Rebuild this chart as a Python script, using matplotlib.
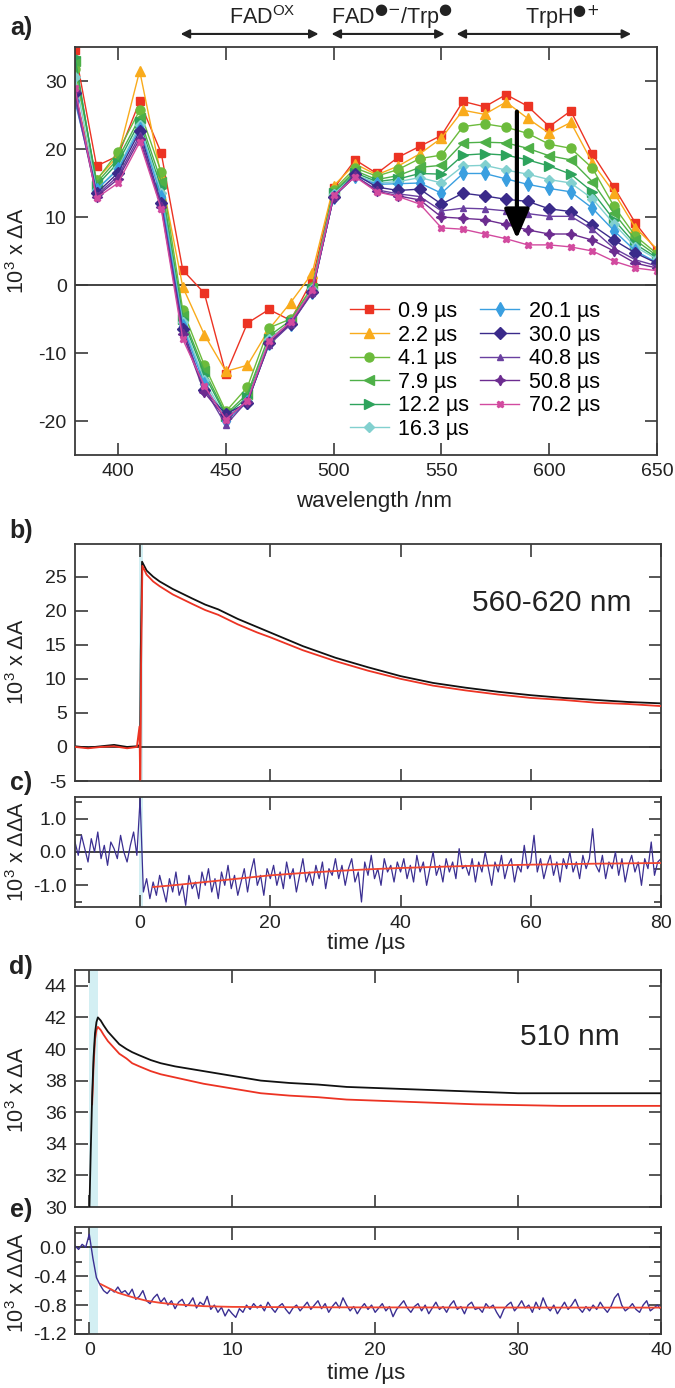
import numpy as np
import matplotlib
matplotlib.use('Agg')
import matplotlib.pyplot as plt
from matplotlib.ticker import MultipleLocator

plt.rcParams['font.family'] = ['Liberation Sans', 'DejaVu Sans']
plt.rcParams['mathtext.fontset'] = 'dejavusans'
plt.rcParams['axes.unicode_minus'] = False

W, H = 675, 1388

# ---------------- panel a data ----------------
wavelengths = list(range(380, 651, 10))
delay_labels = ['0.9 µs', '2.2 µs', '4.1 µs', '7.9 µs', '12.2 µs', '16.3 µs',
                '20.1 µs', '30.0 µs', '40.8 µs', '50.8 µs', '70.2 µs']
spec_0p9 = [34.5, 17.5, 19.0, 27.0, 19.4, 2.2, -1.2, -13.1, -5.6, -3.6, -5.2, 0.7, 14.2, 18.4,
            16.4, 18.8, 20.4, 22.0, 27.0, 26.2, 28.0, 26.3, 23.3, 25.6, 19.3, 14.4, 9.1, 5.0]
spec_2p2 = [28.0, 15.5, 19.0, 31.5, 16.0, -0.3, -7.3, -12.7, -11.8, -6.5, -2.6, 1.7, 14.6, 17.8,
            16.2, 17.5, 19.3, 21.6, 25.7, 25.1, 26.9, 24.5, 22.3, 23.9, 18.0, 13.6, 8.4, 5.3]
spec_4p1 = [31.8, 15.4, 19.6, 25.7, 16.6, -3.7, -11.8, -18.6, -15.0, -6.3, -5.0, -0.3, 14.0, 17.2,
            16.0, 17.0, 18.6, 19.1, 23.3, 23.7, 23.2, 22.3, 20.7, 20.1, 17.2, 11.6, 7.2, 4.6]
spec_7p9 = [33.0, 15.0, 18.6, 24.6, 15.2, -4.6, -12.6, -19.0, -16.0, -7.5, -5.2, -0.5, 13.7, 16.8,
            15.5, 16.1, 17.3, 17.6, 20.9, 21.0, 20.9, 20.1, 19.0, 18.4, 15.2, 10.6, 6.6, 4.3]
spec_12p2 = [33.5, 14.6, 18.0, 24.0, 14.2, -5.0, -13.2, -19.2, -16.5, -8.0, -5.5, -0.6, 13.5, 16.5,
             15.2, 15.6, 16.4, 16.3, 19.1, 19.3, 19.1, 18.4, 17.5, 16.3, 13.7, 9.6, 6.0, 4.0]
spec_16p3 = [30.6, 14.0, 17.2, 23.5, 13.6, -5.5, -14.0, -19.6, -17.0, -8.0, -5.6, -0.6, 13.4, 16.2,
             15.0, 15.2, 15.8, 15.0, 17.5, 17.6, 16.9, 16.3, 15.5, 15.0, 12.7, 9.0, 5.6, 3.8]
spec_20p1 = [27.0, 14.0, 17.0, 23.0, 13.0, -6.0, -14.6, -20.0, -17.2, -8.5, -5.8, -1.0, 13.0, 16.0,
             14.8, 14.9, 15.0, 13.5, 16.4, 16.4, 15.6, 14.8, 14.2, 13.7, 11.3, 8.0, 5.0, 3.3]
spec_30p0 = [28.3, 13.5, 16.5, 22.6, 12.0, -6.5, -15.5, -19.0, -17.3, -8.6, -5.8, -1.0, 13.0, 16.3,
             14.4, 13.9, 14.1, 11.9, 13.5, 13.1, 12.6, 12.3, 11.2, 10.8, 8.8, 6.6, 4.7, 3.2]
spec_40p8 = [27.5, 13.2, 16.0, 22.0, 11.8, -7.0, -15.2, -20.6, -17.0, -8.8, -5.8, -1.2, 13.0, 16.0,
             14.0, 13.4, 13.0, 10.9, 11.3, 11.2, 10.9, 10.5, 10.1, 10.1, 8.2, 5.4, 3.7, 2.8]
spec_50p8 = [28.6, 13.0, 15.6, 21.5, 11.5, -7.2, -15.8, -19.6, -17.2, -8.5, -5.6, -1.0, 13.0, 16.0,
             13.8, 13.1, 12.5, 10.0, 9.8, 9.6, 8.9, 8.1, 7.5, 7.5, 6.6, 5.0, 3.2, 2.5]
spec_70p2 = [29.0, 12.8, 15.0, 21.0, 11.2, -8.0, -14.8, -19.8, -17.0, -8.2, -5.4, -0.8, 13.2, 15.9,
             13.7, 13.0, 11.9, 8.4, 8.2, 7.5, 6.8, 5.9, 5.9, 5.6, 5.0, 3.5, 2.5, 2.1]
spectra = [spec_0p9, spec_2p2, spec_4p1, spec_7p9, spec_12p2, spec_16p3,
           spec_20p1, spec_30p0, spec_40p8, spec_50p8, spec_70p2]
colors = ['#ec3323', '#f9ab1c', '#6cbb3c', '#4eb048', '#2ea35c', '#82d0cf',
          '#3a9fe0', '#3a2a8a', '#6a40a0', '#6c2c90', '#d24a9f']
markers = ['s', '^', 'o', '<', '>', 'D', 'd', 'D', '^', (4, 1, 0), 'X']
msizes = [6, 7, 6.5, 7, 7, 5, 7, 6.5, 4.5, 7.5, 5]

# ---------------- panel b data ----------------
b_time_black = [-10, -8, -6, -4, -2, -0.5, 0.0, 0.1, 0.3, 1, 2, 3, 5, 8, 10, 12, 15, 18, 20,
                25, 30, 35, 40, 45, 50, 55, 60, 65, 70, 75, 80]
b_black = [0.1, -0.1, 0.1, 0.3, 0.0, 0.1, 0.3, 14.0, 27.2, 25.9, 25.0, 24.3, 23.2, 21.8, 20.9,
           20.2, 18.8, 17.6, 16.8, 14.8, 13.1, 11.7, 10.4, 9.4, 8.7, 8.1, 7.6, 7.2, 6.9, 6.6, 6.4]
b_time_red = [-10, -8, -6, -4, -2, -0.5, -0.1, 0.0, 0.05, 0.15, 0.35, 1, 2, 3, 5, 8, 10, 12, 15,
              18, 20, 25, 30, 35, 40, 45, 50, 55, 60, 65, 70, 75, 80]
b_red = [0.0, -0.2, 0.0, 0.1, -0.2, 0.0, 3.0, -4.8, -4.8, 12.0, 26.6, 25.3, 24.3, 23.6, 22.4,
         21.0, 20.1, 19.4, 18.0, 16.8, 16.1, 14.2, 12.6, 11.2, 10.0, 9.0, 8.3, 7.7, 7.2, 6.9,
         6.5, 6.3, 6.0]

# ---------------- panel c data (t = -10 ... 80, every 0.5 us) ----------------
c_start, c_step = -10.0, 0.5
c_diff = [0.3, -0.1, 0.5, 0.1, -0.3, 0.4, 0.0, 0.6, -0.2, 0.2, -0.4, 0.3, 0.1, -0.2, 0.5, 0.0,
          -0.3, 0.2, 0.6, -0.1,
          1.6,
          -1.2, -0.8, -1.4, -0.9, -1.3, -0.7, -1.1, -1.5, -0.8, -1.2, -0.6, -1.3, -1.0, -1.6,
          -0.7, -1.1, -0.9, -1.4, -0.6, -1.0,
          -0.5, -1.2, -0.8, -1.4, -0.6, -1.0, -0.4, -1.1, -0.7, -1.3, -0.9, -0.5, -1.2, -0.6,
          -0.2, -1.0, -0.7, -1.3, -0.5, -0.8,
          -0.4, -1.0, -0.6, -1.1, -0.3, -0.8, -0.5, -1.2, -0.7, -0.2, -0.9, -0.6, -1.0, -0.4,
          -0.8, -0.3, -1.1, -0.5, -0.7, -0.2,
          -0.8, -0.4, -1.0, -0.5, -0.2, -0.9, -0.6, -1.5, -0.3, -0.7, -0.1, -0.8, -0.5, -1.0,
          -0.2, -0.6, -0.4, -0.9, -0.3, -0.6,
          -0.2, -0.8, -0.4, -0.9, -0.1, -0.6, -0.3, -1.0, -0.5, 0.0, -0.7, -0.4, -0.9, -0.2,
          -0.6, -0.3, -0.8, 0.1, -0.5, -0.4,
          -0.7, -0.2, -0.9, -0.3, -0.6, 0.0, -0.5, -1.0, -0.3, -0.6, -0.1, -0.8, -0.4, -0.2,
          -0.9, -0.4, -0.6, 0.2, -0.5, -0.3,
          0.5, -0.6, -0.2, -0.8, -0.4, -0.1, -0.7, -0.3, -0.9, -0.2, -0.5, 0.0, -0.6, -0.3,
          -0.8, -0.1, -0.5, -0.2, 0.7, -0.4,
          -0.6, -0.1, -0.8, -0.3, -0.5, 0.0, -0.7, -0.2, -0.9, -0.4, -0.1, -0.6, -0.3, -1.0,
          -0.2, -0.5, 0.3, -0.7, -0.3, -0.2]
c_fit_time = [2, 5, 10, 15, 20, 25, 30, 35, 40, 50, 60, 70, 80]
c_fit = [-1.05, -1.0, -0.9, -0.8, -0.7, -0.63, -0.57, -0.52, -0.48, -0.42, -0.38, -0.35, -0.33]

# ---------------- panel d data ----------------
d_time_black = [0.0, 0.1, 0.2, 0.3, 0.4, 0.5, 0.6, 0.8, 1.0, 1.3, 1.7, 2.1, 2.6, 3.0, 3.5, 4.3,
                5, 6, 7, 8, 9, 10, 12, 14, 16, 18, 21, 24, 27, 30, 33, 36, 40]
d_black = [29.5, 33.5, 37.0, 39.5, 41.0, 41.7, 42.0, 41.8, 41.5, 41.1, 40.7, 40.3, 40.0, 39.8,
           39.6, 39.3, 39.1, 38.9, 38.75, 38.6, 38.45, 38.3, 38.0, 37.85, 37.75, 37.6, 37.5,
           37.4, 37.3, 37.2, 37.2, 37.2, 37.2]
d_time_red = [0.2, 0.3, 0.4, 0.5, 0.6, 0.8, 1.0, 1.3, 1.7, 2.1, 2.6, 3.0, 3.5, 4.3, 5, 6, 7, 8,
              9, 10, 12, 14, 16, 18, 21, 24, 27, 30, 33, 36, 40]
d_red = [36.5, 39.0, 40.6, 41.2, 41.4, 41.2, 40.9, 40.5, 40.1, 39.7, 39.4, 39.1, 38.9, 38.6,
         38.4, 38.2, 38.0, 37.8, 37.65, 37.5, 37.2, 37.05, 36.95, 36.8, 36.7, 36.6, 36.5,
         36.45, 36.4, 36.4, 36.4]

# ---------------- panel e data (t = -1 ... 40, every 0.25 us) ----------------
e_start, e_step = -1.0, 0.25
e_diff = [0.02, -0.03, 0.04, 0.0, 0.18, -0.15, -0.42, -0.52, -0.6,
          -0.64, -0.58, -0.62, -0.55, -0.63, -0.6, -0.66, -0.58, -0.72, -0.68, -0.6, -0.74,
          -0.78, -0.7, -0.65, -0.76,
          -0.7, -0.8, -0.74, -0.85, -0.76, -0.72, -0.82, -0.78, -0.7, -0.84, -0.76, -0.8,
          -0.68, -0.86, -0.8, -0.9, -0.83, -0.95, -0.86, -0.92,
          -0.97, -0.85, -0.9, -0.8, -0.86, -0.78, -0.84, -0.8, -0.88, -0.76, -0.84, -0.9,
          -0.82, -0.78, -0.86, -0.92, -0.84, -0.8, -0.88, -0.82,
          -0.76, -0.86, -0.8, -0.74, -0.85, -0.78, -0.9, -0.82, -0.76, -0.84, -0.7, -0.8,
          -0.88, -0.82, -0.92, -0.84, -0.78, -0.86, -0.8, -0.9,
          -0.84, -0.78, -0.88, -0.82, -0.96, -0.86, -0.8, -0.74, -0.84, -0.9, -0.82, -0.78,
          -0.88, -0.8, -0.92, -0.84, -0.76, -0.86, -0.82, -0.9,
          -0.8, -0.74, -0.86, -0.82, -0.92, -0.8, -0.76, -0.86, -0.84, -0.9, -0.78, -0.84,
          -0.8, -0.9, -0.98, -0.86, -0.8, -0.76, -0.88, -0.82,
          -0.74, -0.84, -0.8, -0.9, -0.76, -0.86, -0.7, -0.82, -0.88, -0.8, -0.92, -0.84,
          -0.76, -0.86, -0.8, -0.72, -0.84, -0.9, -0.82, -0.88,
          -0.8, -0.86, -0.76, -0.84, -0.9, -0.82, -0.7, -0.64, -0.8, -0.88, -0.84, -0.78,
          -0.86, -0.9, -0.8, -0.74, -0.88, -0.84, -0.8, -0.86]
e_fit_time = [0.8, 1.5, 2, 3, 4, 5, 6, 8, 10, 15, 20, 30, 40]
e_fit = [-0.51, -0.58, -0.63, -0.69, -0.74, -0.77, -0.79, -0.815, -0.825, -0.83, -0.832,
         -0.834, -0.835]

# ---------------- drawing ----------------
fig = plt.figure(figsize=(W / 100, H / 100), dpi=100)

FRAME = '#3a3a3a'
BAND = '#d3eff3'
BLUE = '#3b2f92'
RED = '#ec3323'
TICK_FS = 14
LAB_FS = 16


def axes_px(left, top, right, bottom):
    return fig.add_axes([left / W, 1 - bottom / H, (right - left) / W, (bottom - top) / H])


def style(ax):
    for s in ax.spines.values():
        s.set_color(FRAME)
        s.set_linewidth(1.3)
    ax.tick_params(which='both', direction='in', top=True, right=True, color=FRAME,
                   width=1.2, labelsize=TICK_FS, pad=6, labelcolor='#222')
    ax.tick_params(which='major', length=9)
    ax.tick_params(which='minor', length=5)


def fig_text(x, y, s, **kw):
    fig.text(x / W, 1 - y / H, s, **kw)


# panel a
axa = axes_px(75, 47, 657, 455)
style(axa)
axa.axhline(0, color='#222', lw=1.2, zorder=1)
for vals, lab, c, m, ms in zip(spectra, delay_labels, colors, markers, msizes):
    axa.plot(wavelengths, vals, color=c, marker=m, ms=ms, lw=1.0, mec=c, mfc=c, label=lab,
             zorder=2)
axa.set_xlim(380, 650)
axa.set_ylim(-25, 35)
axa.set_xticks(range(400, 651, 50))
axa.set_yticks(range(-20, 31, 10))
axa.legend(ncol=2, loc='upper left', bbox_to_anchor=((350 - 75) / 582, (455 - 301) / 408),
           frameon=False, fontsize=15.5, handlelength=1.8, handletextpad=0.45,
           columnspacing=0.5, labelspacing=0.12, borderpad=0, borderaxespad=0)
axa.annotate('', xy=(585, 6.8), xytext=(585, 25.5),
             arrowprops=dict(arrowstyle='-|>,head_length=0.75,head_width=0.32', lw=3,
                             color='black', mutation_scale=24, shrinkA=0, shrinkB=0),
             zorder=5)
for x0, x1 in [(429, 493), (499, 551.5), (557, 638)]:
    axa.annotate('', xy=(x0, 1.032), xytext=(x1, 1.032),
                 xycoords=('data', 'axes fraction'), textcoords=('data', 'axes fraction'),
                 arrowprops=dict(arrowstyle='<|-|>', lw=1.5, color='#222', mutation_scale=13,
                                 shrinkA=0, shrinkB=0), annotation_clip=False)
for xc, s in [(467, r'FAD$^{\mathregular{OX}}$'),
              (527, r'FAD$^{●{−}}$/Trp$^{●}$'),
              (606, r'TrpH$^{●{+}}$')]:
    axa.text(xc, 1.072, s, transform=axa.get_xaxis_transform(), ha='center', va='center',
             fontsize=15.5, color='#222')

# panel b
axb = axes_px(75, 544, 661, 781)
style(axb)
axb.axvspan(-0.1, 0.4, color=BAND, zorder=0, lw=0)
axb.axhline(0, color='#222', lw=1.2, zorder=1)
axb.plot(b_time_red, b_red, color=RED, lw=1.3, zorder=3)
axb.plot(b_time_black, b_black, color='#111111', lw=1.3, zorder=2)
axb.set_xlim(-10, 80)
axb.set_ylim(-5, 29.8)
axb.set_xticks(range(0, 81, 20))
axb.set_yticks(range(-5, 26, 5))
axb.tick_params(labelbottom=False)
fig_text(632, 603, '560-620 nm', ha='right', va='center', fontsize=21.5, color='#222')

# panel c
axc = axes_px(75, 797, 661, 907)
style(axc)
axc.axvspan(-0.1, 0.4, color=BAND, zorder=0, lw=0)
c_time = c_start + c_step * np.arange(len(c_diff))
axc.axhline(0, color='#222', lw=1.2, zorder=1)
axc.plot(c_time, c_diff, color=BLUE, lw=0.9, zorder=2)
axc.plot(c_fit_time, c_fit, color='#f2452f', lw=1.3, zorder=3)
axc.set_xlim(-10, 80)
axc.set_ylim(-1.65, 1.65)
axc.set_xticks(range(0, 81, 20))
axc.set_yticks([-1.0, 0.0, 1.0])
axc.set_yticklabels(['-1.0', '0.0', '1.0'])
axc.yaxis.set_minor_locator(MultipleLocator(0.5))

# panel d
axd = axes_px(75, 970, 661, 1207)
style(axd)
axd.axvspan(0.0, 0.6, color=BAND, zorder=0, lw=0)
axd.plot(d_time_red, d_red, color=RED, lw=1.3, zorder=2)
axd.plot(d_time_black, d_black, color='#111111', lw=1.3, zorder=3)
axd.set_xlim(-1, 40)
axd.set_ylim(30, 45)
axd.set_xticks(range(0, 41, 10))
axd.set_yticks(range(30, 45, 2))
axd.tick_params(labelbottom=False)
fig_text(620, 1037, '510 nm', ha='right', va='center', fontsize=21.5, color='#222')

# panel e
axe = axes_px(75, 1227, 661, 1334)
style(axe)
axe.axvspan(0.0, 0.6, color=BAND, zorder=0, lw=0)
e_time = e_start + e_step * np.arange(len(e_diff))
axe.axhline(0, color='#222', lw=1.2, zorder=1)
axe.plot(e_time, e_diff, color=BLUE, lw=1.0, zorder=2)
axe.plot(e_fit_time, e_fit, color='#f2452f', lw=1.3, zorder=3)
axe.set_xlim(-1, 40)
axe.set_ylim(-1.2, 0.28)
axe.set_xticks(range(0, 41, 10))
axe.set_yticks([-1.2, -0.8, -0.4, 0.0])
axe.set_yticklabels(['-1.2', '-0.8', '-0.4', '0.0'])
axe.yaxis.set_minor_locator(MultipleLocator(0.2))

# labels
ylab_a = '10$^{\\mathregular{3}}$ x ΔA'
ylab_d = '10$^{\\mathregular{3}}$ x ΔΔA'
for yc, s in [(251, ylab_a), (662, ylab_a), (852, ylab_d), (1090, ylab_a), (1283, ylab_d)]:
    fig_text(18, yc, s, rotation=90, ha='center', va='center', fontsize=15.5, color='#222')
fig_text(374, 502, 'wavelength /nm', ha='center', va='center', fontsize=LAB_FS, color='#222')
fig_text(366, 943, 'time /µs', ha='center', va='center', fontsize=LAB_FS, color='#222')
fig_text(366, 1373, 'time /µs', ha='center', va='center', fontsize=LAB_FS, color='#222')
for yc, s in [(28, 'a)'), (531, 'b)'), (783, 'c)'), (967, 'd)'), (1210, 'e)')]:
    fig_text(21, yc, s, ha='center', va='center', fontsize=18, fontweight='bold', color='#222')

fig.savefig('out.png', dpi=100)
